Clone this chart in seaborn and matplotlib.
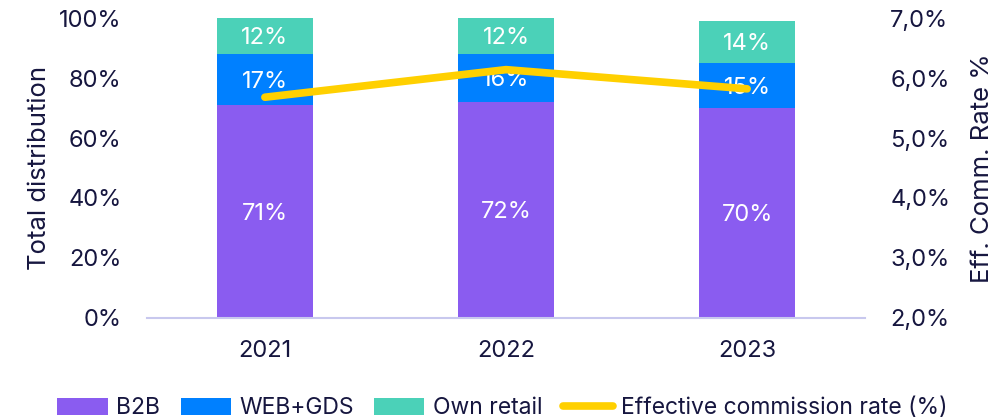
import matplotlib
matplotlib.use("Agg")
import matplotlib.pyplot as plt
import seaborn as sns
import pandas as pd
import numpy as np
from matplotlib.patches import Patch
from matplotlib.lines import Line2D
from matplotlib.ticker import FuncFormatter

years = ["2021", "2022", "2023"]
b2b = [71, 72, 70]
web_gds = [17, 16, 15]
own_retail = [12, 12, 14]
eff_rate = [5.68, 6.14, 5.82]

C_B2B = "#8A5CF0"
C_WEB = "#0080FF"
C_OWN = "#4BD1B8"
C_LINE = "#FFD000"
C_TEXT = "#16163F"

sns.set_theme(style="white")
plt.rcParams["font.family"] = ["Inter", "DejaVu Sans"]
plt.rcParams["text.color"] = C_TEXT

fig, ax = plt.subplots(figsize=(10.05, 4.2), dpi=100)
fig.subplots_adjust(left=0.146, right=0.861, top=0.957, bottom=0.243)

df = pd.DataFrame({"year": years, "B2B": b2b, "WEB+GDS": web_gds, "Own retail": own_retail})
bottom = np.zeros(len(years))
for col, color in [("B2B", C_B2B), ("WEB+GDS", C_WEB), ("Own retail", C_OWN)]:
    vals = np.array(df[col], dtype=float)
    sns.barplot(x=df["year"], y=vals, bottom=bottom, color=color, width=0.4,
                ax=ax, saturation=1, edgecolor="none", linewidth=0)
    for i, v in enumerate(vals):
        ax.text(i, bottom[i] + v / 2 - 0.8, f"{int(v)}%", ha="center", va="center",
                color="white", fontsize=17)
    bottom += vals

ax.set_xlim(-0.49, 2.49)
ax.set_ylim(0, 100)
ax.set_yticks(range(0, 101, 20))
ax.yaxis.set_major_formatter(FuncFormatter(lambda v, p: f"{int(v)}%"))
ax.set_ylabel("Total distribution", fontsize=18.5, color=C_TEXT, labelpad=6)
ax.set_xlabel("")
ax.tick_params(axis="y", length=0, labelsize=17, colors=C_TEXT, pad=18)
ax.tick_params(axis="x", length=0, labelsize=17, colors=C_TEXT, pad=16)
for s in ["top", "right", "left"]:
    ax.spines[s].set_visible(False)
ax.spines["bottom"].set_color("#C8C8EE")
ax.spines["bottom"].set_linewidth(1.5)

ax2 = ax.twinx()
sns.lineplot(x=[0, 1, 2], y=eff_rate, ax=ax2, color=C_LINE, linewidth=5.5,
             solid_capstyle="round")
ax2.set_ylim(2, 7)
ax2.set_yticks(range(2, 8))
ax2.yaxis.set_major_formatter(FuncFormatter(lambda v, p: f"{v:.1f}%".replace(".", ",")))
ax2.set_ylabel("Eff. Comm. Rate %", fontsize=18.5, color=C_TEXT, labelpad=15)
ax2.tick_params(axis="y", length=0, labelsize=17, colors=C_TEXT, pad=18)
for s in ax2.spines.values():
    s.set_visible(False)

handles = [
    Patch(facecolor=C_B2B, edgecolor="none", label="B2B"),
    Patch(facecolor=C_WEB, edgecolor="none", label="WEB+GDS"),
    Patch(facecolor=C_OWN, edgecolor="none", label="Own retail"),
    Line2D([0], [0], color=C_LINE, linewidth=5.5, solid_capstyle="round",
           label="Effective commission rate (%)"),
]
fig.legend(handles=handles, loc="lower center", bbox_to_anchor=(0.5, -0.047), ncol=4,
           frameon=False, fontsize=16.5, handlelength=2.2, handleheight=0.75,
           handletextpad=0.35, columnspacing=0.9)

fig.savefig("out.png", dpi=100)
